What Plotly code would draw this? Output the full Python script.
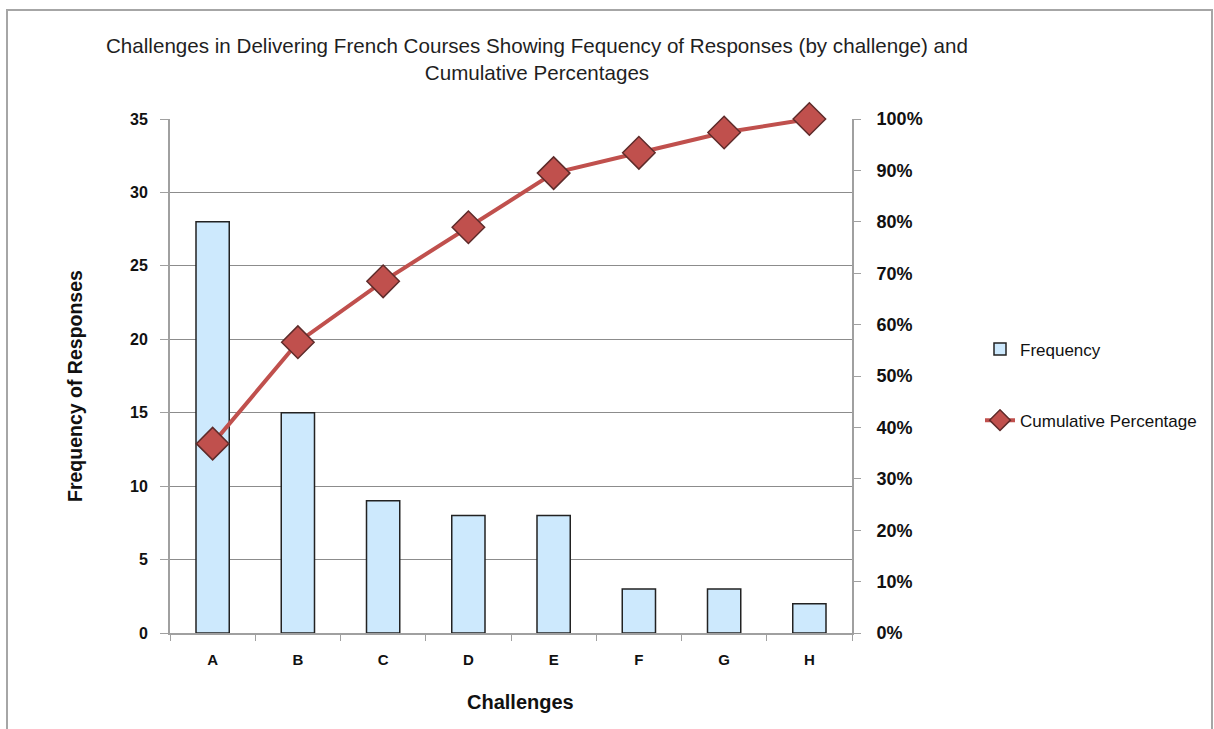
import plotly.graph_objects as go

# Challenge categories and number of responses for each
challenges = ["A", "B", "C", "D", "E", "F", "G", "H"]
frequency = [28, 15, 9, 8, 8, 3, 3, 2]

# Running share of all responses (Pareto line)
total = sum(frequency)
cumulative_pct = []
running = 0
for f in frequency:
    running += f
    cumulative_pct.append(running / total * 100)

left_ticks = [0, 5, 10, 15, 20, 25, 30, 35]
right_ticks = [0, 10, 20, 30, 40, 50, 60, 70, 80, 90, 100]
right_labels = [f"{t}%" for t in right_ticks]

W, H = 1214, 729
L, R, T, B = 170, 362, 119, 96
pw, ph = W - L - R, H - T - B

axis_grey = "#a0a0a0"
font = "Arial, Liberation Sans, sans-serif"


def px_x(x):
    return (x - L) / pw


def px_y(y):
    return (H - B - y) / ph


fig = go.Figure()

fig.add_trace(go.Bar(
    x=challenges, y=frequency, name="Frequency",
    legendgroup="freq",
    marker=dict(color="#cde9fd", line=dict(color="#222222", width=1.5)),
    yaxis="y",
))

fig.add_trace(go.Scatter(
    x=challenges, y=cumulative_pct, name="Cumulative Percentage",
    legendgroup="cum",
    mode="lines+markers", yaxis="y2", cliponaxis=False,
    line=dict(color="#c0504d", width=4),
    marker=dict(symbol="diamond", size=25, color="#c0504d",
                line=dict(color="#5e2b2a", width=1.5)),
))

fig.update_layout(
    width=W, height=H,
    margin=dict(l=L, r=R, t=T, b=B),
    paper_bgcolor="white", plot_bgcolor="white",
    bargap=0.61,
    showlegend=True,
    title=dict(
        text="Challenges in Delivering French Courses Showing Fequency of Responses (by challenge) and<br>Cumulative Percentages",
        x=537 / W, xanchor="center", xref="container",
        y=1 - 53 / H, yanchor="middle", yref="container",
        font=dict(family=font, size=20.6, color="#1f1f1f"),
    ),
    xaxis=dict(
        type="category", tickson="boundaries", range=[-0.5, 7.5],
        ticks="outside", ticklen=6, tickcolor=axis_grey,
        ticklabelstandoff=12,
        showline=True, linecolor=axis_grey, linewidth=2,
        showgrid=False,
        tickfont=dict(family=font, size=15, color="#111111", weight="bold"),
    ),
    yaxis=dict(
        range=[0, 35], tickvals=left_ticks,
        ticks="outside", ticklen=8, tickcolor=axis_grey,
        ticklabelstandoff=9,
        showline=True, linecolor=axis_grey, linewidth=2,
        showgrid=True, gridcolor="#8c8c8c", gridwidth=1,
        zeroline=False,
        tickfont=dict(family=font, size=16, color="#111111", weight="bold"),
    ),
    yaxis2=dict(
        range=[0, 100], tickvals=right_ticks, ticktext=right_labels,
        overlaying="y", side="right",
        ticks="outside", ticklen=7, tickcolor=axis_grey,
        ticklabelstandoff=12,
        showline=True, linecolor=axis_grey, linewidth=2,
        showgrid=False, zeroline=False,
        tickfont=dict(family=font, size=18, color="#111111", weight="bold"),
    ),
    legend=dict(
        x=px_x(980), y=px_y(385), xanchor="left", yanchor="middle",
        font=dict(family=font, size=17, color="#111111"),
        tracegroupgap=46,
        bgcolor="rgba(0,0,0,0)",
    ),
    annotations=[
        dict(text="<b>Frequency of Responses</b>", textangle=-90,
             xref="paper", yref="paper", x=px_x(75), y=px_y(386),
             xanchor="center", yanchor="middle", showarrow=False,
             font=dict(family=font, size=19.5, color="#111111")),
        dict(text="<b>Challenges</b>",
             xref="paper", yref="paper", x=px_x(520), y=px_y(702),
             xanchor="center", yanchor="middle", showarrow=False,
             font=dict(family=font, size=20, color="#111111")),
    ],
    shapes=[dict(
        type="rect", xref="paper", yref="paper",
        x0=px_x(7), x1=px_x(1212),
        y0=px_y(740), y1=px_y(10),
        line=dict(color="#a6a6a6", width=2), fillcolor="rgba(0,0,0,0)",
        layer="below",
    )],
)

fig.write_html("out.html")
